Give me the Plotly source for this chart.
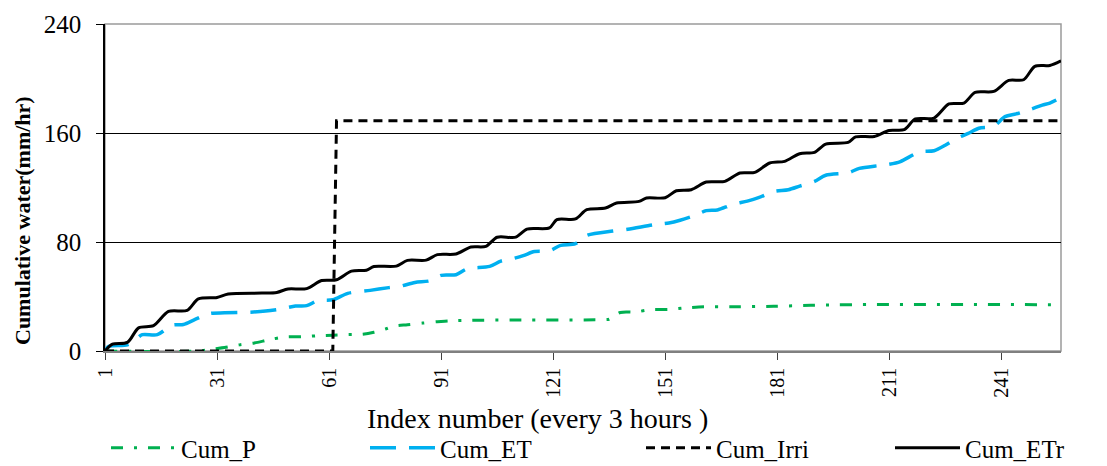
import plotly.graph_objects as go

# Cumulative water balance series, indexed every 3 hours
etr_idx = [1, 3, 7, 10, 14, 18, 23, 26, 31, 34, 43, 47, 50, 55, 59, 63, 67, 71, 73, 79,
           82, 87, 90, 95, 99, 103, 106, 111, 114, 120, 122, 127, 130, 135, 138, 144, 146,
           151, 154, 158, 162, 167, 171, 175, 179, 183, 187, 191, 194, 200, 202, 207, 211,
           215, 218, 223, 227, 231, 234, 239, 243, 247, 250, 254, 257]
etr_val = [0, 5, 6.3, 17, 18.6, 29, 29.8, 38.2, 39.3, 41.8, 42.5, 43, 45.5, 45.8, 51.7,
           52.3, 58.6, 59.3, 62, 62.3, 66.5, 66.7, 70.7, 71.2, 76.3, 76.8, 83.5, 83.6, 89.5,
           90.3, 96.4, 96.9, 103.7, 104.9, 108.6, 109.8, 112.3, 112.5, 117.6, 118.4, 124,
           124.5, 130.6, 131.1, 138, 139.2, 144.8, 145.8, 151.9, 153.1, 157.1, 157.5, 161.9,
           162.4, 170.3, 171, 181.3, 182, 189.8, 190.5, 198.6, 199.1, 208.9, 209.6, 213]

et_idx = [1, 2, 7, 9, 11, 15, 19, 22, 25, 29, 33, 40, 44, 48, 52, 55, 58, 62, 66, 72, 77,
          80, 84, 88, 91, 95, 98, 104, 107, 110, 113, 116, 120, 123, 127, 130, 137, 141,
          148, 152, 155, 159, 162, 165, 169, 173, 176, 180, 184, 187, 191, 194, 200, 203,
          208, 211, 214, 219, 223, 226, 229, 232, 235, 239, 242, 245, 249, 252, 254, 257]
et_val = [0, 3.4, 4.6, 8, 12, 12, 19, 19.5, 23, 27.5, 28, 28.5, 29.3, 30.8, 33, 33.3, 37,
          37.6, 42.3, 44.5, 46.5, 47.5, 50.3, 51.5, 55.5, 56, 60.3, 62.1, 66, 67.7, 70, 73,
          73.5, 77.5, 78.8, 84.8, 88, 89.3, 92.7, 94, 96, 99.5, 103, 103.5, 107.5, 110,
          112.5, 117, 118.4, 121, 124.5, 129, 130.8, 134, 136, 137, 139, 146, 147, 151,
          156, 159.5, 163.5, 165, 172, 174, 177.5, 180.5, 182, 186]

p_idx = [1, 26, 30, 33, 37, 41, 45, 49, 54, 58, 62, 66, 70, 73, 76, 78, 82, 86, 90, 94,
         98, 110, 135, 136, 139, 143, 147, 152, 156, 160, 170, 180, 190, 200, 257]
p_val = [0, 0, 1.5, 2.5, 4.5, 5.9, 8.3, 10.2, 10.5, 11.2, 11.5, 12, 12.3, 13.7, 16, 18,
         19.3, 20.5, 21.5, 22.2, 22.5, 22.8, 23, 23.3, 28.3, 28.6, 30.3, 30.5, 31.5, 32.3,
         32.5, 32.8, 33.5, 34, 34]

irri_idx = [1, 62, 63, 257]
irri_val = [0, 0, 169, 169]

x_ticks = [1, 31, 61, 91, 121, 151, 181, 211, 241]
y_ticks = [0, 80, 160, 240]

SERIF = "Times New Roman, Liberation Serif, serif"

fig = go.Figure()
fig.add_trace(go.Scatter(
    x=p_idx, y=p_val, name="Cum_P", mode="lines", legend="legend",
    line=dict(color="#00B050", width=3, dash="12px,11px,3px,11px", shape="spline", smoothing=0.8)))
fig.add_trace(go.Scatter(
    x=et_idx, y=et_val, name="Cum_ET", mode="lines", legend="legend2",
    line=dict(color="#00B0F0", width=3.5, dash="26px,13px", shape="spline", smoothing=0.8)))
fig.add_trace(go.Scatter(
    x=irri_idx, y=irri_val, name="Cum_Irri", mode="lines", legend="legend3",
    line=dict(color="#000000", width=3, dash="9px,6px")))
fig.add_trace(go.Scatter(
    x=etr_idx, y=etr_val, name="Cum_ETr", mode="lines", legend="legend4",
    line=dict(color="#000000", width=3, shape="spline", smoothing=0.8)))


def legend_box(x_px):
    # one single-entry legend per series, laid out in a row under the axis title
    return dict(
        orientation="h", x=(x_px - 105) / 956, xanchor="left",
        y=(351 - 448) / 327, yanchor="middle",
        font=dict(family=SERIF, size=25, color="black"),
        itemwidth=65, bgcolor="rgba(0,0,0,0)",
    )


fig.update_layout(
    width=1107, height=466,
    margin=dict(l=105, r=46, t=24, b=115, autoexpand=False),
    paper_bgcolor="white", plot_bgcolor="white",
    font=dict(family=SERIF, color="black"),
    showlegend=True,
    legend=legend_box(106),
    legend2=legend_box(365),
    legend3=legend_box(641),
    legend4=legend_box(890),
    xaxis=dict(
        range=[1, 257], tickmode="array", tickvals=x_ticks,
        ticktext=[str(v) for v in x_ticks], tickangle=-90,
        tickfont=dict(family=SERIF, size=20, color="black"),
        ticks="outside", ticklen=7, tickcolor="#404040", tickwidth=1,
        showgrid=False, zeroline=False, automargin=False,
        showline=True, linecolor="#808080", linewidth=1.5,
    ),
    yaxis=dict(
        range=[0, 240], tickmode="array", tickvals=y_ticks,
        tickfont=dict(family=SERIF, size=25, color="black"),
        ticks="outside", ticklen=7, tickcolor="black", tickwidth=1,
        ticklabelstandoff=10, automargin=False,
        showgrid=True, gridcolor="black", gridwidth=1, zeroline=False,
        showline=True, linecolor="black", linewidth=1.5,
    ),
    shapes=[dict(type="rect", xref="paper", yref="paper", x0=0, x1=1, y0=0, y1=1,
                 line=dict(color="#9A9A9A", width=1.5), layer="below")],
    annotations=[
        dict(text="Index number (every 3 hours )", xref="paper", yref="paper",
             x=(537 - 105) / 956, y=(351 - 418) / 327, xanchor="center", yanchor="middle",
             showarrow=False, font=dict(family=SERIF, size=28, color="black")),
        dict(text="<b>Cumulative water(mm/hr)</b>", xref="paper", yref="paper",
             x=(22 - 105) / 956, y=(351 - 221) / 327, xanchor="center", yanchor="middle",
             textangle=-90, showarrow=False, font=dict(family=SERIF, size=22, color="black")),
    ],
)

fig.write_html("out.html")
